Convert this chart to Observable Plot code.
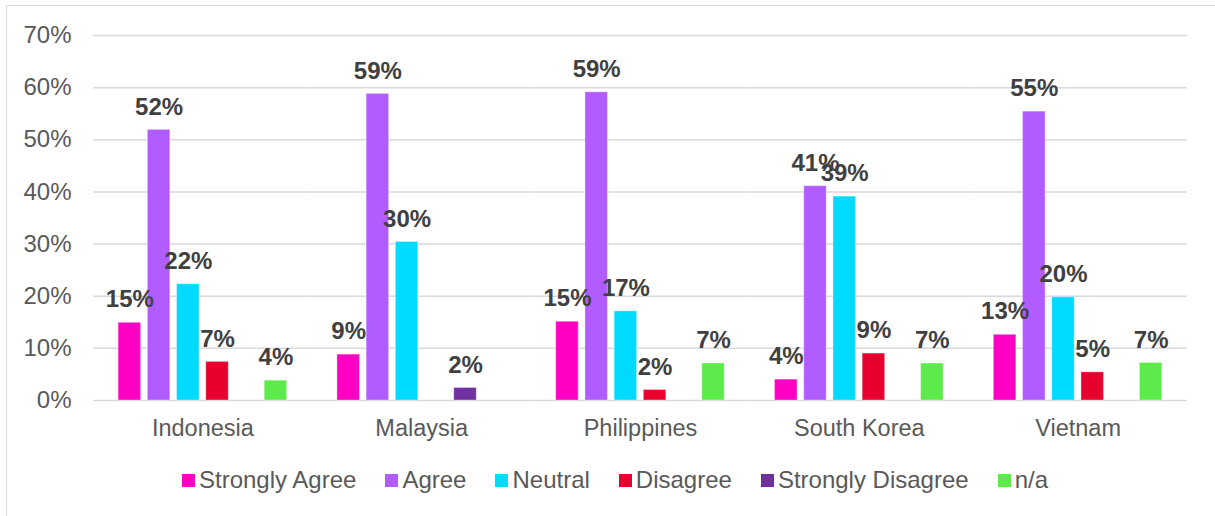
<!DOCTYPE html>
<html><head><meta charset="utf-8">
<script src="https://cdn.jsdelivr.net/npm/d3@7"></script>
<script src="https://cdn.jsdelivr.net/npm/@observablehq/plot@0.6"></script>
<style>
body{margin:0;background:#fff;font-family:"Liberation Sans",Arial,sans-serif;}
#wrap{position:relative;width:1215px;height:516px;overflow:hidden;background:#fff;}
#frame{position:absolute;left:6px;top:5px;width:1400px;height:700px;border:1.5px solid #d9d9d9;box-sizing:border-box;}
#chart{position:absolute;left:0;top:0;}
#legend{position:absolute;left:0;top:465px;width:1215px;height:30px;display:flex;justify-content:center;align-items:center;padding-left:15px;box-sizing:border-box;font-size:24px;color:#595959;}
.item{display:flex;align-items:center;margin-right:29px;white-space:nowrap;}
.item:last-child{margin-right:0;}
.sw{width:13px;height:13px;margin-right:4px;}
</style></head>
<body>
<div id="wrap"><div id="frame"></div><div id="chart"></div><div id="legend"></div></div>
<script>
const countries = ["Indonesia", "Malaysia", "Philippines", "South Korea", "Vietnam"];
const series = ["Strongly Agree", "Agree", "Neutral", "Disagree", "Strongly Disagree", "n/a"];
const colors = ["#FF00C4", "#B05CFF", "#00DAFF", "#E8002E", "#7030A0", "#5CEB4A"];
const stronglyAgree = [14.9, 8.8, 15.1, 4.0, 12.6];
const agree = [51.9, 58.8, 59.1, 41.1, 55.4];
const neutral = [22.3, 30.4, 17.1, 39.1, 19.8];
const disagree = [7.4, null, 2.0, 9.0, 5.4];
const stronglyDisagree = [null, 2.4, null, null, null];
const na = [3.8, null, 7.1, 7.1, 7.2];
const yTicks = [0, 10, 20, 30, 40, 50, 60, 70];

const seriesValues = [stronglyAgree, agree, neutral, disagree, stronglyDisagree, na];
const data = [];
countries.forEach((c, i) => {
  series.forEach((s, j) => {
    const v = seriesValues[j][i];
    if (v != null) data.push({country: c, series: s, value: v});
  });
});

const chart = Plot.plot({
  width: 1215,
  height: 450,
  marginLeft: 93,
  marginRight: 28,
  marginTop: 35,
  marginBottom: 50,
  style: {fontFamily: "'Liberation Sans', Arial, sans-serif", fontSize: "24px", color: "#595959", background: "transparent"},
  fx: {domain: countries, padding: 0, label: null, round: false},
  x: {domain: series, axis: null, paddingInner: 0.23, paddingOuter: 0.86, round: false},
  y: {domain: [0, 70], label: null},
  color: {domain: series, range: colors},
  marks: [
    Plot.ruleY(yTicks, {y: d => d, stroke: "#d9d9d9", strokeWidth: 1.5}),
    Plot.barY(data, {fx: "country", x: "series", y: "value", fill: "series", stroke: "#ffffff", strokeOpacity: 0.35, strokeWidth: 1}),
    Plot.text(data, {fx: "country", x: "series", y: "value", text: d => Math.round(d.value) + "%",
      dy: -23, lineAnchor: "middle", fill: "#404040", fontWeight: "bold", fontSize: 24}),
    Plot.axisY(yTicks, {tickFormat: d => d + "%", tickSize: 0, tickPadding: 22, label: null, fill: "#595959", fontSize: 24}),
    Plot.axisFx({anchor: "bottom", tickSize: 0, tickPadding: 19, label: null, fill: "#595959", fontSize: 23.5})
  ]
});
document.getElementById("chart").appendChild(chart);

const legend = document.getElementById("legend");
series.forEach((s, i) => {
  const it = document.createElement("div");
  it.className = "item";
  const sw = document.createElement("div");
  sw.className = "sw";
  sw.style.background = colors[i];
  const t = document.createElement("span");
  t.textContent = s;
  it.appendChild(sw); it.appendChild(t);
  legend.appendChild(it);
});
</script>
</body></html>
